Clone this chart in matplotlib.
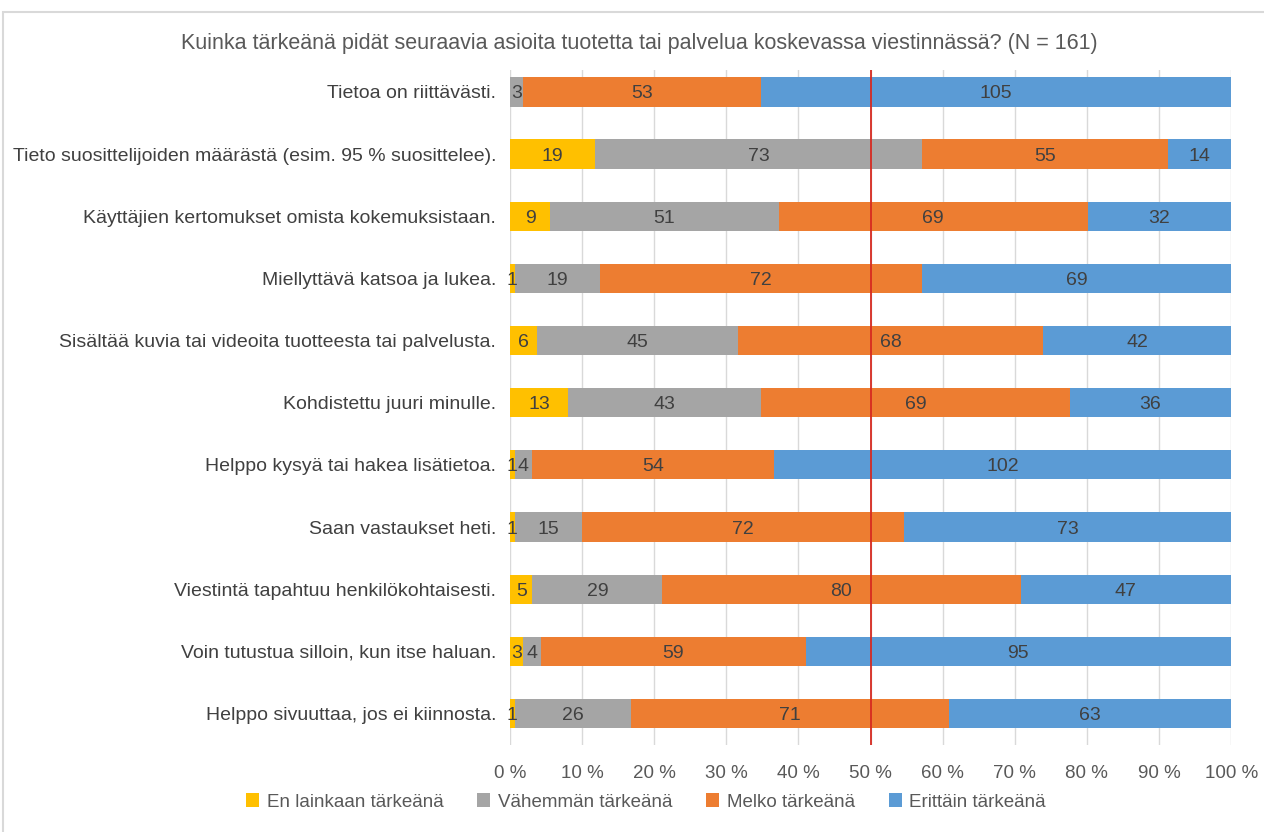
import matplotlib.pyplot as plt
import numpy as np
from matplotlib.patches import Rectangle

plt.rcParams["font.family"] = ["Liberation Sans", "DejaVu Sans"]

questions = [
    "Tietoa on riittävästi.",
    "Tieto suosittelijoiden määrästä (esim. 95 % suosittelee).",
    "Käyttäjien kertomukset omista kokemuksistaan.",
    "Miellyttävä katsoa ja lukea.",
    "Sisältää kuvia tai videoita tuotteesta tai palvelusta.",
    "Kohdistettu juuri minulle.",
    "Helppo kysyä tai hakea lisätietoa.",
    "Saan vastaukset heti.",
    "Viestintä tapahtuu henkilökohtaisesti.",
    "Voin tutustua silloin, kun itse haluan.",
    "Helppo sivuuttaa, jos ei kiinnosta.",
]
en_lainkaan = [0, 19, 9, 1, 6, 13, 1, 1, 5, 3, 1]
vahemman = [3, 73, 51, 19, 45, 43, 4, 15, 29, 4, 26]
melko = [53, 55, 69, 72, 68, 69, 54, 72, 80, 59, 71]
erittain = [105, 14, 32, 69, 42, 36, 102, 73, 47, 95, 63]

series_names = ["En lainkaan tärkeänä", "Vähemmän tärkeänä", "Melko tärkeänä", "Erittäin tärkeänä"]
colors = ["#FFC000", "#A5A5A5", "#ED7D31", "#5B9BD5"]
tick_labels = [f"{p} %" for p in range(0, 101, 10)]

counts = np.array([en_lainkaan, vahemman, melko, erittain], dtype=float)
shares = counts / counts.sum(axis=0) * 100

fig = plt.figure(figsize=(12.64, 8.32), dpi=100)
# light chart-area border (Excel style), runs off the right and bottom edge
fig.patches.append(Rectangle((3 / 1264, -0.05), 1.1, 0.05 + 1 - 12 / 832, transform=fig.transFigure,
                             fill=False, edgecolor="#D9D9D9", linewidth=1.5))
ax = fig.add_axes([0.4035, 0.104, 0.5705, 0.812])

y = np.arange(len(questions))
left = np.zeros(len(questions))
for name, color, share, cnt in zip(series_names, colors, shares, counts):
    ax.barh(y, share, left=left, height=0.47, color=color, label=name, zorder=2)
    for yi, (l, s, c) in enumerate(zip(left, share, cnt)):
        if c > 0:
            ax.text(l + s / 2, yi, f"{int(c)}", ha="center", va="center_baseline",
                    fontsize=14, color="#404040", zorder=3)
    left += share

ax.axvline(50, color="#D62A20", linewidth=1.3, zorder=4)

ax.set_xlim(0, 100)
ax.set_ylim(10.515, -0.355)
ax.set_xticks(range(0, 101, 10))
ax.set_xticklabels(tick_labels, fontsize=13.5, color="#595959")
ax.set_yticks(y)
ax.set_yticklabels(questions, fontsize=14, color="#404040")
ax.tick_params(length=0, pad=10)
ax.tick_params(axis="x", pad=14)
ax.grid(axis="x", color="#D9D9D9", linewidth=1, zorder=0)
for side in ["top", "right", "bottom", "left"]:
    ax.spines[side].set_visible(False)

fig.text(0.506, 0.948, "Kuinka tärkeänä pidät seuraavia asioita tuotetta tai palvelua koskevassa viestinnässä? (N = 161)",
         ha="center", va="center", fontsize=15.5, color="#595959")

fig.legend(loc="center", bbox_to_anchor=(0.511, 0.036), ncol=4, frameon=False,
           fontsize=13.5, handlelength=0.7, handleheight=0.7, columnspacing=1.8,
           handletextpad=0.4, labelcolor="#595959")

fig.savefig("out.png", dpi=100)
